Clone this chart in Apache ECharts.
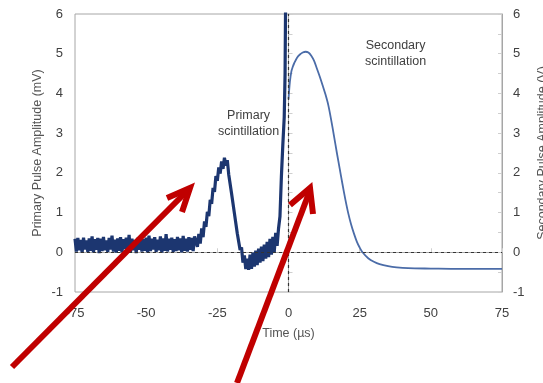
<!DOCTYPE html>
<html><head><meta charset="utf-8">
<script src="https://cdn.jsdelivr.net/npm/echarts@6/dist/echarts.min.js"></script>
<style>html,body{margin:0;padding:0;background:#fff;}#c{width:543px;height:383px;}</style>
</head><body><div id="c"></div>
<script>
// Time axis ticks (µs)
const xTicks = [-75, -50, -25, 0, 25, 50, 75];
// Amplitude ticks
const yTicks = [-1, 0, 1, 2, 3, 4, 5, 6];

// Primary pulse (mV): sampled every 0.5 µs from -75 µs
const primaryStart = -75;
const primaryStep = 0.5;
const primaryValues = [
  0.34, 0.02, 0.36, 0.05, 0.31, -0.01, 0.37, 0.07, 0.30, 0.01,
  0.35, 0.04, 0.40, 0.00, 0.33, 0.06, 0.36, -0.02, 0.34, 0.03,
  0.39, 0.05, 0.30, 0.01, 0.36, 0.07, 0.42, 0.02, 0.32, -0.01,
  0.35, 0.04, 0.38, 0.00, 0.33, 0.08, 0.37, 0.03, 0.44, 0.01,
  0.34, 0.05, 0.31, -0.02, 0.36, 0.06, 0.39, 0.02, 0.33, 0.04,
  0.37, 0.00, 0.42, 0.03, 0.34, 0.07, 0.38, 0.01, 0.32, 0.05,
  0.40, -0.01, 0.35, 0.04, 0.46, 0.02, 0.34, 0.06, 0.37, 0.01,
  0.33, 0.03, 0.39, 0.05, 0.35, 0.00, 0.41, 0.04, 0.34, 0.02,
  0.38, 0.06, 0.36, 0.03, 0.40,
  0.38, 0.14, 0.46, 0.22, 0.60, 0.38, 0.78, 0.64, 1.02, 0.91,
  1.32, 1.22, 1.62, 1.52, 1.92, 1.80, 2.14, 1.98, 2.29, 2.10,
  2.38, 2.18,
  2.32, 1.96, 1.97, 1.48, 1.47, 0.98, 0.97, 0.48, 0.50, 0.06,
  0.12, -0.26, -0.08, -0.42, -0.16, -0.44,
  -0.06, -0.42, -0.01, -0.36, 0.04, -0.32, 0.09, -0.26, 0.14, -0.22,
  0.19, -0.16, 0.26, -0.12, 0.34, -0.06, 0.39, 0.01, 0.49, 0.16,
  0.60, 0.90, 1.90, 2.70, 3.40
];
// Final steep rise of the primary trace (goes off scale)
const primarySpikeT = [-1.2, -1.0];
const primarySpikeV = [4.5, 6.5];

// Secondary pulse (V)
const secondaryT = [0, 0.5, 1, 1.5, 2, 3, 4, 5, 6, 7, 8, 9, 10, 11, 12, 13, 14, 15, 16, 17, 18, 19, 20, 21, 22, 23, 24, 25, 26, 28, 30, 32, 35, 38, 42, 50, 60, 75];
const secondaryV = [3.85, 4.3, 4.55, 4.67, 4.76, 4.9, 4.98, 5.03, 5.05, 5.03, 4.95, 4.82, 4.62, 4.42, 4.2, 3.97, 3.7, 3.33, 2.92, 2.5, 2.1, 1.7, 1.32, 0.98, 0.7, 0.47, 0.27, 0.12, 0.0, -0.15, -0.24, -0.3, -0.35, -0.38, -0.4, -0.41, -0.42, -0.42];

const primaryData = primaryValues.map((v, i) => [primaryStart + i * primaryStep, v])
  .concat(primarySpikeT.map((t, i) => [t, primarySpikeV[i]]));
const secondaryData = secondaryT.map((t, i) => [t, secondaryV[i]]);

const FONT = "'Liberation Sans', Arial, sans-serif";
const TXT = '#404040';
const AX = '#a6a6a6';

const chart = echarts.init(document.getElementById('c'), null, {renderer: 'canvas'});
const yCommon = {
  type: 'value', min: yTicks[0], max: yTicks[yTicks.length - 1], interval: 1,
  axisLine: {show: true, lineStyle: {color: AX, width: 1}},
  axisTick: {show: true, inside: true, length: 4, lineStyle: {color: '#cfcfcf'}},
  minorTick: {show: true, splitNumber: 2, length: 4, lineStyle: {color: '#cfcfcf'}},
  splitLine: {show: false},
  axisLabel: {color: TXT, fontSize: 13, fontFamily: FONT},
  nameLocation: 'middle', nameRotate: 90, nameMoveOverlap: false,
  nameTextStyle: {color: '#555', fontSize: 12.5, fontFamily: FONT}
};
chart.setOption({
  animation: false,
  backgroundColor: '#fff',
  grid: {left: 75, right: 41, top: 14, bottom: 91, show: true, borderColor: AX, borderWidth: 1, outerBoundsMode: 'none', containLabel: false},
  xAxis: {
    type: 'value', min: xTicks[0], max: xTicks[xTicks.length - 1], interval: 25,
    axisLine: {show: true, lineStyle: {color: AX}},
    axisTick: {show: true, inside: true, length: 4, lineStyle: {color: '#cfcfcf'}},
    splitLine: {show: false},
    axisLabel: {color: TXT, fontSize: 13, fontFamily: FONT, margin: 15},
    name: 'Time (µs)', nameLocation: 'middle', nameGap: 35, nameMoveOverlap: false,
    nameTextStyle: {color: '#555', fontSize: 12.5, fontFamily: FONT}
  },
  yAxis: [
    Object.assign({}, yCommon, {position: 'left', name: 'Primary Pulse Amplitude (mV)', nameGap: 31,
      axisLabel: Object.assign({}, yCommon.axisLabel, {margin: 12})}),
    Object.assign({}, yCommon, {position: 'right', name: 'Secondary Pulse Amplitude (V)', nameGap: 34,
      axisLabel: Object.assign({}, yCommon.axisLabel, {margin: 11})})
  ],
  series: [
    {
      type: 'line', yAxisIndex: 0, data: primaryData, showSymbol: false, symbol: 'none',
      lineStyle: {color: '#1c3670', width: 3.2}, z: 3, clip: true,
      markLine: {
        silent: true, symbol: 'none', label: {show: false},
        lineStyle: {color: '#333', width: 1.2, type: [3, 3]},
        data: [{yAxis: 0}, {xAxis: 0}]
      }
    },
    {
      type: 'line', yAxisIndex: 1, data: secondaryData, showSymbol: false, symbol: 'none', smooth: 0.3,
      lineStyle: {color: '#4b6ca8', width: 1.8}, z: 3
    }
  ],
  graphic: [
    {type: 'text', left: 218, top: 108, z: 10, style: {text: 'Primary\nscintillation', textAlign: 'center', fill: '#404040', font: '12.5px ' + FONT, lineHeight: 16}},
    {type: 'text', left: 365, top: 38, z: 10, style: {text: 'Secondary\nscintillation', textAlign: 'center', fill: '#404040', font: '12.5px ' + FONT, lineHeight: 16}},
    {type: 'line', z: 20, shape: {x1: 12, y1: 367, x2: 186, y2: 192}, style: {stroke: '#c00000', lineWidth: 6}},
    {type: 'polyline', z: 20, shape: {points: [[167, 198], [190, 188], [182, 212]]}, style: {stroke: '#c00000', lineWidth: 6, fill: null, lineJoin: 'miter'}},
    {type: 'line', z: 20, shape: {x1: 237, y1: 383, x2: 309, y2: 193}, style: {stroke: '#c00000', lineWidth: 6}},
    {type: 'polyline', z: 20, shape: {points: [[290, 205], [310, 188], [313, 214]]}, style: {stroke: '#c00000', lineWidth: 6, fill: null, lineJoin: 'miter'}}
  ]
});
</script></body></html>
